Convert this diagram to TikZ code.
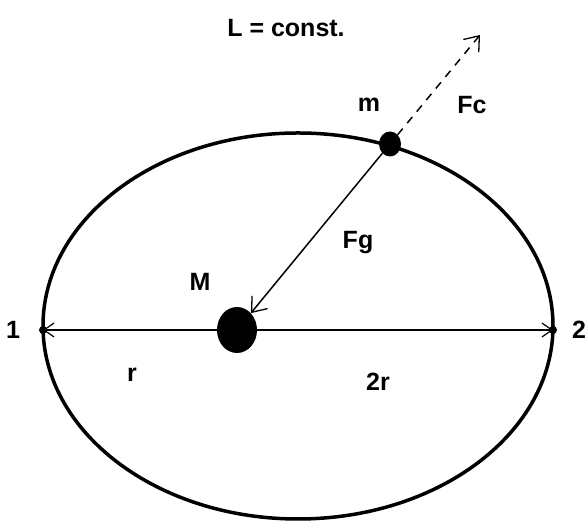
\documentclass[tikz,border=0pt]{standalone}
\usepackage{fontspec}
\setmainfont{Liberation Sans}
\usetikzlibrary{arrows.meta,shapes.geometric}

\begin{document}
\begin{tikzpicture}[x=1pt, y=1pt, every node/.style={font=\bfseries\fontsize{25}{29}\selectfont}]
  \tikzstyle{mass}=[ellipse, fill=black, inner sep=0pt]
  \tikzstyle{dot}=[circle, fill=black, inner sep=0pt, minimum size=8pt]
  \tikzstyle{force}=[line width=1.5pt, -{Straight Barb[length=13pt,width=20pt,line width=1.3pt]}]
  \useasboundingbox (0,0) rectangle (587,521);
  % orbit
  \draw[line width=3.5pt] (298,195) ellipse [x radius=255pt, y radius=193pt];
  \node[dot] (p1) at (43,191) {};
  \node[dot] (p2) at (553,191) {};
  \draw[line width=1.2pt, {Straight Barb[length=10pt,width=14pt]}-{Straight Barb[length=10pt,width=14pt]}] (p1.center) -- (p2.center);
  % bodies
  \node[mass, minimum width=40pt, minimum height=46pt] (M) at (237,191) {};
  \node[mass, minimum width=22pt, minimum height=25pt] (m) at (390,377) {};
  \coordinate (fc) at (480,486);
  \draw[force] (m) -- (M);
  \draw[force, dashed, dash pattern=on 8pt off 7pt] (m) -- (fc);
  % labels
  \node (title) at (286,493) {L = const.};
  \node (lm) at (369,416) {m};
  \node (lfc) at (472,416) {Fc};
  \node (lfg) at (358,278) {Fg};
  \node (lM) at (200,239) {M};
  \node (l1) at (13,191) {1};
  \node (l2) at (579,191) {2};
  \node (lr) at (132,146) {r};
  \node (l2r) at (378,139) {2r};
\end{tikzpicture}
\end{document}
